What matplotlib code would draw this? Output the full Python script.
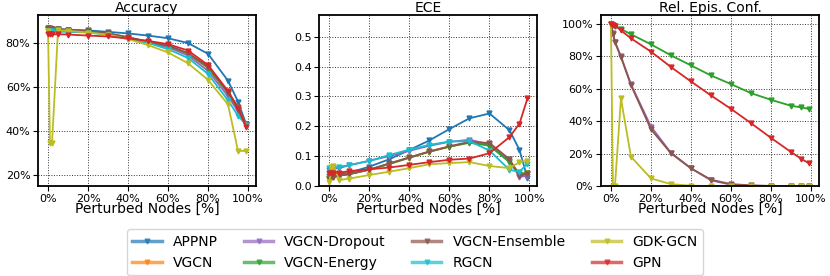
import numpy as np
import matplotlib
matplotlib.use('Agg')
import matplotlib.pyplot as plt
from matplotlib.ticker import PercentFormatter

# perturbed nodes in %
x = [0, 1, 2, 5, 10, 20, 30, 40, 50, 60, 70, 80, 90, 95, 99]

models = ['APPNP', 'VGCN', 'VGCN-Dropout', 'VGCN-Energy', 'VGCN-Ensemble', 'RGCN', 'GDK-GCN', 'GPN']
colors = ['tab:blue', 'tab:orange', 'tab:purple', 'tab:green', 'tab:brown', 'tab:cyan', 'tab:olive', 'tab:red']

nan = np.nan

# accuracy [%]
acc_appnp = [86.9, 86.8, 86.7, 86.5, 86.3, 86.0, 85.3, 84.6, 83.6, 82.4, 80.2, 75.3, 63.0, 53.5, 43.2]
acc_vgcn = [86.7, 86.6, 86.5, 86.3, 86.0, 85.4, 84.4, 82.6, 80.6, 78.8, 75.3, 68.8, 57.2, 49.8, 43.0]
acc_drop = [86.5, 86.4, 86.3, 86.1, 85.8, 85.2, 84.2, 82.3, 80.2, 78.3, 74.5, 67.5, 56.0, 49.0, 43.0]
acc_energy = [86.8, 86.7, 86.6, 86.4, 86.1, 85.5, 84.5, 82.7, 80.7, 79.0, 75.5, 69.0, 57.5, 50.0, 43.0]
acc_ens = [87.0, 86.9, 86.8, 86.6, 86.3, 85.6, 84.7, 82.9, 80.9, 79.1, 75.6, 69.5, 58.0, 51.0, 43.5]
acc_rgcn = [85.6, 85.5, 85.5, 85.4, 85.3, 85.0, 84.0, 82.0, 80.3, 77.4, 73.4, 66.1, 54.1, 47.0, 43.0]
acc_gdk = [85.7, 34.5, 34.5, 86.0, 85.8, 85.0, 84.0, 82.0, 79.3, 75.9, 71.0, 63.4, 52.2, 31.0, 31.0]
acc_gpn = [84.2, 84.2, 84.2, 84.2, 84.1, 83.6, 83.2, 82.3, 81.2, 79.7, 76.8, 70.2, 58.3, 50.3, 42.0]

# expected calibration error
ece_appnp = [0.035, 0.035, 0.04, 0.04, 0.045, 0.065, 0.09, 0.121, 0.153, 0.191, 0.227, 0.243, 0.187, 0.121, 0.026]
ece_vgcn = [0.027, 0.03, 0.03, 0.035, 0.04, 0.055, 0.074, 0.095, 0.115, 0.132, 0.146, 0.138, 0.085, 0.04, 0.042]
ece_drop = [0.055, 0.057, 0.058, 0.06, 0.07, 0.085, 0.1, 0.118, 0.135, 0.148, 0.155, 0.14, 0.085, 0.03, 0.035]
ece_energy = [0.027, 0.03, 0.03, 0.035, 0.04, 0.055, 0.074, 0.095, 0.115, 0.132, 0.145, 0.135, 0.08, 0.04, 0.045]
ece_ens = [0.025, 0.03, 0.03, 0.035, 0.04, 0.055, 0.076, 0.096, 0.116, 0.133, 0.148, 0.144, 0.09, 0.035, 0.04]
ece_rgcn = [0.06, 0.055, 0.06, 0.065, 0.07, 0.084, 0.104, 0.122, 0.138, 0.149, 0.15, 0.119, 0.054, 0.048, 0.075]
ece_gdk = [0.015, 0.065, 0.067, 0.02, 0.025, 0.037, 0.048, 0.06, 0.073, 0.077, 0.08, 0.067, 0.06, 0.08, 0.085]
ece_gpn = [0.045, 0.045, 0.045, 0.045, 0.05, 0.056, 0.062, 0.071, 0.08, 0.088, 0.092, 0.11, 0.164, 0.209, 0.294]

# relative epistemic confidence [%] (only models with an epistemic estimate)
conf_appnp = [nan] * 15
conf_vgcn = [nan] * 15
conf_drop = [100, 94.5, 89.0, 80.0, 62.8, 36.7, 20.5, 11.0, 3.5, 0.8, 0.2, 0.0, 0.0, 0.0, 0.0]
conf_energy = [100, 99.5, 99.0, 96.9, 93.6, 87.4, 80.6, 74.4, 68.2, 62.9, 57.3, 53.2, 49.5, 48.5, 47.6]
conf_ens = [100, 94.0, 88.7, 79.6, 62.3, 35.0, 20.2, 10.9, 3.9, 1.2, 0.4, 0.1, 0.0, 0.0, 0.0]
conf_rgcn = [nan] * 15
conf_gdk = [100, 0.0, 0.0, 54.0, 18.1, 4.7, 1.2, 0.2, 0.0, 0.0, 0.0, 0.0, 0.0, 0.0, 0.0]
conf_gpn = [100, 99.5, 99.0, 96.0, 91.1, 82.9, 73.4, 64.5, 55.9, 47.6, 38.8, 29.7, 21.0, 16.9, 14.0]

acc = [acc_appnp, acc_vgcn, acc_drop, acc_energy, acc_ens, acc_rgcn, acc_gdk, acc_gpn]
ece = [ece_appnp, ece_vgcn, ece_drop, ece_energy, ece_ens, ece_rgcn, ece_gdk, ece_gpn]
conf = [conf_appnp, conf_vgcn, conf_drop, conf_energy, conf_ens, conf_rgcn, conf_gdk, conf_gpn]

fig, axes = plt.subplots(1, 3, figsize=(8.3, 2.76), dpi=100)
plt.subplots_adjust(left=0.0458, right=0.9867, top=0.9457, bottom=0.326, wspace=0.291)

panels = [(acc, 'Accuracy'), (ece, 'ECE'), (conf, 'Rel. Epis. Conf.')]
for ax, (data, title) in zip(axes, panels):
    for name, c, y in zip(models, colors, data):
        ax.plot(x, y, color=c, marker='v', markersize=3.5, linewidth=1.3, label=name)
    ax.set_title(title, fontsize=10, pad=2)
    ax.set_xlabel('Perturbed Nodes [%]', fontsize=10, labelpad=-1)
    ax.set_xlim(-5, 104)
    ax.set_xticks([0, 20, 40, 60, 80, 100])
    ax.xaxis.set_major_formatter(PercentFormatter(decimals=0))
    ax.grid(True, color='k', linestyle=':', linewidth=0.7, alpha=0.8)
    ax.tick_params(labelsize=8, pad=2)
    for s in ax.spines.values():
        s.set_linewidth(1.3)

axes[0].set_ylim(15, 93)
axes[0].set_yticks([20, 40, 60, 80])
axes[0].yaxis.set_major_formatter(PercentFormatter(decimals=0))
axes[1].set_ylim(0, 0.573)
axes[1].set_yticks([0.0, 0.1, 0.2, 0.3, 0.4, 0.5])
axes[2].set_ylim(0, 105.5)
axes[2].set_yticks([0, 20, 40, 60, 80, 100])
axes[2].yaxis.set_major_formatter(PercentFormatter(decimals=0))

handles, labels = axes[0].get_legend_handles_labels()
leg = fig.legend(handles, labels, loc='lower center', ncol=4, fontsize=10,
                 bbox_to_anchor=(0.5, 0.0), handlelength=2.1, columnspacing=1.9,
                 borderaxespad=0.05)
for h in leg.legend_handles:
    h.set_linewidth(2.5)
    h.set_alpha(0.7)

fig.savefig('out.png', dpi=100)
